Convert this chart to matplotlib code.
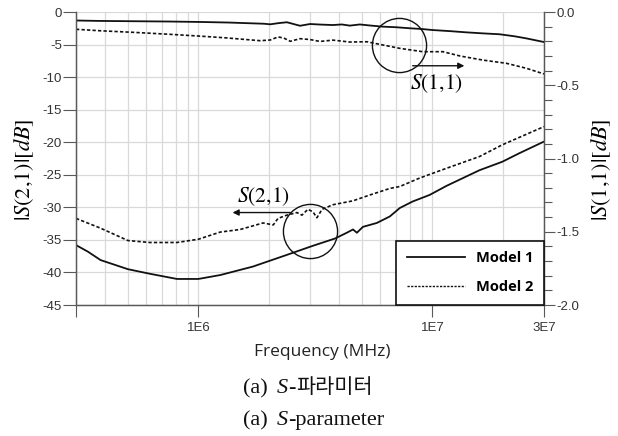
import numpy as np
import matplotlib.pyplot as plt
from matplotlib.ticker import FixedLocator, MultipleLocator, FormatStrFormatter
from matplotlib.lines import Line2D

plt.rcParams['axes.unicode_minus'] = False
plt.rcParams['font.family'] = ['Liberation Sans', 'DejaVu Sans']

# S(1,1) [dB]  (right axis)
f11_m1 = [3e5, 3.8e5, 5.3e5, 7.5e5, 1.02e6, 1.35e6, 1.67e6, 1.9e6, 2.03e6, 2.2e6,
          2.39e6, 2.55e6, 2.72e6, 3.0e6, 3.35e6, 3.76e6, 4.1e6, 4.44e6, 4.9e6, 5.4e6,
          6.14e6, 7.0e6, 8.0e6, 9.0e6, 1.0e7, 1.2e7, 1.4e7, 1.65e7, 1.94e7, 2.25e7,
          2.52e7, 3.0e7]
s11_m1 = [-0.058, -0.061, -0.063, -0.065, -0.068, -0.072, -0.077, -0.080, -0.084, -0.076,
          -0.070, -0.082, -0.094, -0.082, -0.086, -0.089, -0.085, -0.093, -0.085, -0.092,
          -0.100, -0.104, -0.111, -0.116, -0.123, -0.131, -0.139, -0.146, -0.152, -0.166,
          -0.180, -0.205]
f11_m2 = [3e5, 3.8e5, 5.3e5, 7.5e5, 1.0e6, 1.3e6, 1.6e6, 1.84e6, 2.03e6, 2.19e6,
          2.32e6, 2.47e6, 2.72e6, 3.0e6, 3.31e6, 3.76e6, 4.44e6, 5.25e6, 6.14e6, 7.25e6,
          9.1e6, 1.11e7, 1.31e7, 1.64e7, 2.07e7, 2.52e7, 3.0e7]
s11_m2 = [-0.118, -0.128, -0.139, -0.152, -0.164, -0.176, -0.188, -0.196, -0.191, -0.170,
          -0.178, -0.200, -0.182, -0.188, -0.201, -0.192, -0.205, -0.203, -0.225, -0.248,
          -0.271, -0.271, -0.300, -0.328, -0.350, -0.384, -0.423]

# S(2,1) [dB]  (left axis)
f21_m1 = [3e5, 3.37e5, 3.82e5, 5.0e5, 6.2e5, 8.1e5, 1.0e6, 1.24e6, 1.71e6, 2.39e6,
          3.09e6, 3.83e6, 4.31e6, 4.58e6, 4.76e6, 5.05e6, 5.79e6, 6.58e6, 7.26e6, 8.24e6,
          9.73e6, 1.15e7, 1.59e7, 1.99e7, 2.35e7, 3.0e7]
s21_m1 = [-35.8, -36.8, -38.1, -39.5, -40.2, -41.0, -41.0, -40.4, -39.1, -37.3,
          -35.9, -34.8, -33.9, -33.4, -33.9, -33.0, -32.4, -31.4, -30.1, -29.1,
          -28.1, -26.7, -24.3, -23.0, -21.7, -19.9]
f21_m2 = [3e5, 3.82e5, 5.0e5, 6.2e5, 8.1e5, 1.0e6, 1.24e6, 1.51e6, 1.89e6, 2.09e6,
          2.19e6, 2.39e6, 2.64e6, 2.77e6, 2.94e6, 3.09e6, 3.21e6, 3.38e6, 3.76e6, 4.58e6,
          5.41e6, 6.58e6, 7.26e6, 8.83e6, 1.15e7, 1.59e7, 1.99e7, 3.0e7]
s21_m2 = [-31.7, -33.2, -35.1, -35.4, -35.4, -34.9, -33.8, -33.4, -32.4, -32.7,
          -31.7, -31.2, -30.8, -31.2, -30.3, -30.7, -31.6, -30.3, -29.6, -29.0,
          -28.1, -27.1, -26.8, -25.5, -24.0, -22.2, -20.4, -17.6]

xticks = [3e5, 1e6, 1e7, 3e7]
xticklabels = ['', '1E6', '1E7', '3E7']
xgrid_minor = [4e5, 5e5, 6e5, 7e5, 8e5, 9e5, 2e6, 3e6, 4e6, 5e6, 6e6, 7e6, 8e6, 9e6, 2e7]

W, H = 618, 436
fig = plt.figure(figsize=(W / 100, H / 100), dpi=100)
ax = fig.add_axes([76 / W, 1 - 305 / H, 468 / W, 293 / H])
ax2 = ax.twinx()

spine_c = '#595959'
grid_c = '#d9d9d9'
lc = '#111111'
dash = (0, (2.0, 1.3))

ax.set_xscale('log')
ax.set_xlim(3e5, 3e7)
ax.set_ylim(-45, 0)
ax2.set_ylim(-2, 0)

ax.plot(f21_m1, s21_m1, color=lc, lw=1.3, label='Model 1')
ax.plot(f21_m2, s21_m2, color=lc, lw=1.2, ls=dash, label='Model 2')
ax2.plot(f11_m1, s11_m1, color=lc, lw=1.3)
ax2.plot(f11_m2, s11_m2, color=lc, lw=1.2, ls=dash)

# ticks and grid
ax.set_xticks(xticks, xticklabels)
ax.xaxis.set_minor_locator(FixedLocator(xgrid_minor))
ax.yaxis.set_major_locator(MultipleLocator(5))
ax.yaxis.set_major_formatter(FormatStrFormatter('%d'))
ax2.yaxis.set_major_locator(MultipleLocator(0.5))
ax2.yaxis.set_minor_locator(MultipleLocator(0.1))
ax2.yaxis.set_major_formatter(FormatStrFormatter('%.1f'))
ax.grid(True, which='both', axis='x', color=grid_c, lw=0.9)
ax.grid(True, which='major', axis='y', color=grid_c, lw=0.9)
ax.set_axisbelow(True)

ax.tick_params(axis='x', which='major', length=8.5, width=0.8, color=spine_c,
               labelsize=9.5, labelcolor='#333333', pad=3.5)
ax.tick_params(axis='x', which='minor', length=0)
ax.tick_params(axis='y', length=9.5, width=0.8, color=spine_c,
               labelsize=9.5, labelcolor='#333333', pad=0.5)
ax2.tick_params(axis='y', which='major', length=8, width=0.8, color=spine_c,
                labelsize=9.5, labelcolor='#333333', pad=1)
ax2.tick_params(axis='y', which='minor', length=5.5, width=0.8, color=spine_c)

for a in (ax, ax2):
    a.spines['top'].set_visible(False)
    for s in ('left', 'right', 'bottom'):
        a.spines[s].set_color(spine_c)
        a.spines[s].set_linewidth(0.9)

ax.set_ylabel(r'$|S(2{,}1)|[dB]$', math_fontfamily='stix', fontsize=16, va='center')
ax.yaxis.set_label_coords((24 - 76) / 468, (305 - 170) / 293)
ax2.set_ylabel(r'$|S(1{,}1)|[dB]$', math_fontfamily='stix', fontsize=16, va='center',
               rotation=90)
ax2.yaxis.set_label_coords((601 - 76) / 468, (305 - 170) / 293)

# circles and arrows
ax.plot([3.0e6], [-33.7], 'o', ms=39, mfc='none', mec=lc, mew=1.0)
ax2.plot([7.19e6], [-0.222], 'o', ms=39, mfc='none', mec=lc, mew=1.0)
arrow = dict(arrowstyle='-|>', color=lc, lw=1.0, mutation_scale=9, shrinkA=0, shrinkB=0)
ax.annotate('', xy=(1.40e6, -30.8), xytext=(2.47e6, -30.8), arrowprops=arrow)
ax2.annotate('', xy=(1.37e7, -0.367), xytext=(8.24e6, -0.367), arrowprops=arrow)
ax.text(1.89e6, -28.3, r'$S(2{,}1)$', math_fontfamily='stix', fontsize=15.5,
        ha='center', va='center')
ax2.text(1.04e7, -0.488, r'$S(1{,}1)$', math_fontfamily='stix', fontsize=15.5,
         ha='center', va='center')

# legend
handles = [Line2D([], [], color=lc, lw=1.3),
           Line2D([], [], color=lc, lw=1.0, ls=(0, (1.6, 1.0)))]
leg = ax2.legend(handles, ['Model 1', 'Model 2'], loc='lower right',
                 bbox_to_anchor=(1, 0), borderaxespad=0, fancybox=False,
                 edgecolor='#111111', framealpha=1, handlelength=4.0,
                 handletextpad=0.7, labelspacing=1.0, borderpad=0.75,
                 prop={'family': 'Open Sans', 'weight': 'bold', 'size': 10.5})
leg.get_frame().set_linewidth(1.2)

fig.text(322 / W, 1 - 356 / H, 'Frequency (MHz)', family='Open Sans', fontsize=12.5,
         ha='center', va='baseline', color='#222222')

# two-line caption built from pieces
r = fig.canvas.get_renderer()


def caption(y_px, pieces):
    x = 243
    for s, gap, kw in pieces:
        x += gap
        t = fig.text(x / W, 1 - y_px / H, s, ha='left', va='baseline', color='#111111', **kw)
        x += t.get_window_extent(r).width


serif = ['Liberation Serif', 'Noto Sans CJK KR']
caption(393, [('(a)', 0, dict(family=serif, fontsize=16)),
              ('S', 9, dict(family=serif, fontsize=16, style='italic')),
              ('-', 0.5, dict(family=serif, fontsize=16)),
              ('파라미터', 0, dict(family=serif, fontsize=15))])
caption(425, [('(a)', 0, dict(family=serif, fontsize=16)),
              ('S', 9, dict(family=serif, fontsize=16, style='italic')),
              ('-parameter', 0.5, dict(family=serif, fontsize=16))])

fig.savefig('out.png', dpi=100)
